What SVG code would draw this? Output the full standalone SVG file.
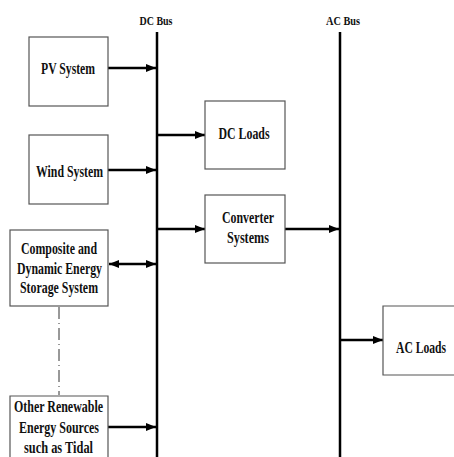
<svg xmlns="http://www.w3.org/2000/svg" width="454" height="457" viewBox="0 0 454 457">
<style>
.box{fill:#fff;stroke:#555;stroke-width:1.2}
.t{font-family:"Liberation Serif","Times New Roman",serif;font-weight:bold;font-size:16px;fill:#111;text-anchor:middle}
.s{font-size:12px}
.bus{stroke:#000;stroke-width:2.5;fill:none}
.arr{stroke:#000;stroke-width:2.5;fill:none;marker-end:url(#ah)}
</style>
<defs>
<marker id="ah" markerUnits="userSpaceOnUse" markerWidth="10" markerHeight="8" refX="10" refY="4" orient="auto">
<path d="M0,0 L10,4 L0,8 z" fill="#000"/>
</marker>
<marker id="as" markerUnits="userSpaceOnUse" markerWidth="10" markerHeight="8" refX="0" refY="4" orient="auto">
<path d="M10,0 L0,4 L10,8 z" fill="#000"/>
</marker>
</defs>
<rect width="454" height="457" fill="#fff"/>
<g id="connectors">
<line class="bus" x1="157" y1="32" x2="157" y2="457"/>
<line class="bus" x1="340" y1="32" x2="340" y2="457"/>
<line class="arr" x1="108" y1="68" x2="156" y2="68"/>
<line class="arr" x1="108" y1="170" x2="156" y2="170"/>
<line class="arr" x1="157" y1="135" x2="205" y2="135"/>
<line class="arr" x1="157" y1="229" x2="205" y2="229"/>
<line class="arr" x1="285" y1="229" x2="339" y2="229"/>
<line class="arr" x1="109" y1="264" x2="156" y2="264" style="marker-start:url(#as)"/>
<line class="arr" x1="108" y1="427" x2="156" y2="427"/>
<line class="arr" x1="340" y1="340" x2="383" y2="340"/>
<line x1="59" y1="307" x2="59" y2="395" stroke="#333" stroke-width="1" stroke-dasharray="12 4 1 4"/>
</g>
<g id="dcbus-label"><text class="t s" x="156" y="25" textLength="33" lengthAdjust="spacingAndGlyphs">DC Bus</text></g>
<g id="acbus-label"><text class="t s" x="343" y="25" textLength="34" lengthAdjust="spacingAndGlyphs">AC Bus</text></g>
<g id="pv"><rect class="box" x="29" y="37" width="79" height="69"/><text class="t" x="68" y="74" textLength="54" lengthAdjust="spacingAndGlyphs">PV System</text></g>
<g id="wind"><rect class="box" x="29" y="135" width="79" height="69"/><text class="t" x="69.5" y="177" textLength="67" lengthAdjust="spacingAndGlyphs">Wind System</text></g>
<g id="dcloads"><rect class="box" x="205" y="101" width="80" height="68"/><text class="t" x="244" y="139" textLength="51" lengthAdjust="spacingAndGlyphs">DC Loads</text></g>
<g id="converter"><rect class="box" x="205" y="195" width="80" height="68"/><text class="t" x="248" y="223" textLength="52" lengthAdjust="spacingAndGlyphs">Converter</text><text class="t" x="248" y="243" textLength="42" lengthAdjust="spacingAndGlyphs">Systems</text></g>
<g id="storage"><rect class="box" x="10" y="230" width="98" height="76"/><text class="t" x="59" y="254" textLength="76" lengthAdjust="spacingAndGlyphs">Composite and</text><text class="t" x="59.5" y="274" textLength="85" lengthAdjust="spacingAndGlyphs">Dynamic Energy</text><text class="t" x="59" y="293" textLength="78" lengthAdjust="spacingAndGlyphs">Storage System</text></g>
<g id="other"><path class="box" d="M10,457 V396 H108 V457"/><text class="t" x="58.5" y="412" textLength="89" lengthAdjust="spacingAndGlyphs">Other Renewable</text><text class="t" x="59" y="433" textLength="80" lengthAdjust="spacingAndGlyphs">Energy Sources</text><text class="t" x="58.5" y="453" textLength="69" lengthAdjust="spacingAndGlyphs">such as Tidal</text></g>
<g id="acloads"><path class="box" d="M454,306 H383 V375 H454"/><text class="t" x="421" y="353" textLength="50" lengthAdjust="spacingAndGlyphs">AC Loads</text></g>
</svg>
